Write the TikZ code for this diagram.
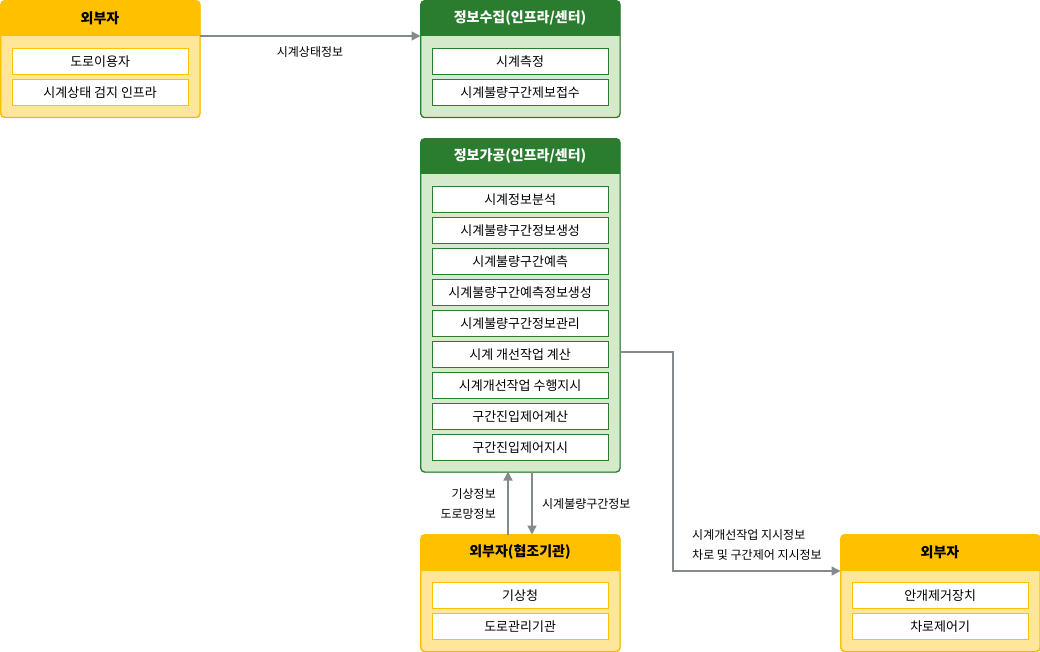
\documentclass[tikz,border=0pt]{standalone}
\usepackage{fontspec}
\setmainfont{Noto Sans CJK KR}
\usetikzlibrary{arrows.meta,positioning}
\definecolor{yhead}{HTML}{FFC000}
\definecolor{ybody}{HTML}{FFE699}
\definecolor{ghead}{HTML}{2A7D2E}
\definecolor{gbody}{HTML}{D5EACB}
\definecolor{arr}{HTML}{858A8C}
\tikzset{
  outer/.style={draw, line width=0.8pt, rounded corners=4pt, minimum width=199pt, anchor=north west, inner sep=0pt},
  ybox/.style={outer, draw=yhead!90!black, fill=ybody},
  gbox/.style={outer, draw=ghead, fill=gbody},
  ititle/.style={font=\bfseries\fontsize{14}{16}\selectfont},
  item/.style={draw, line width=0.8pt, fill=white, minimum width=175.5pt, minimum height=26pt, anchor=north west, inner sep=0pt, font=\fontsize{13}{15}\selectfont},
  yitem/.style={item, draw=yhead},
  gitem/.style={item, draw=ghead},
  lbl/.style={font=\fontsize{12}{14}\selectfont, inner sep=0pt},
  flow/.style={draw=arr, line width=1.5pt, -{Triangle[length=9pt,width=9pt]}},
}
\newcommand{\header}[2]{%
  \begin{scope}
    \clip[rounded corners=4pt] (#1.north west) rectangle (#1.south east);
    \fill[#2] (#1.north west) rectangle ([yshift=-36pt]#1.north east);
  \end{scope}
  \draw[line width=0.8pt, rounded corners=4pt, draw=#2] (#1.north west) rectangle (#1.south east);
}
\begin{document}
\begin{tikzpicture}[x=1pt,y=-1pt]
\useasboundingbox (0,0) rectangle (1040,652);

% Box 1
\node[ybox, minimum height=116.5pt] (ext1) at (0.5,0.5) {};
\header{ext1}{yhead}
\node[ititle] (ext1t) at (100,18) {외부자};
\node[yitem] (ext1a) at (12,48) {도로이용자};
\node[yitem] (ext1b) at (12,79) {시계상태 검지 인프라};

% Box 2
\node[gbox, minimum height=116.5pt] (col) at (420.5,0.5) {};
\header{col}{ghead}
\node[ititle, text=white] (colt) at (520,18) {정보수집(인프라/센터)};
\node[gitem] (cola) at (432,48) {시계측정};
\node[gitem] (colb) at (432,79) {시계불량구간제보접수};

% Box 3
\node[gbox, minimum height=333pt] (proc) at (420.5,138.5) {};
\header{proc}{ghead}
\node[ititle, text=white] (proct) at (520,156) {정보가공(인프라/센터)};
\foreach \t [count=\i from 0] in {시계정보분석,시계불량구간정보생성,시계불량구간예측,시계불량구간예측정보생성,시계불량구간정보관리,시계 개선작업 계산,시계개선작업 수행지시,구간진입제어계산,구간진입제어지시}
  \node[gitem] (p\i) at (432,186+31*\i) {\t};

% Box 4
\node[ybox, minimum height=116.5pt] (coop) at (420.5,534.5) {};
\header{coop}{yhead}
\node[ititle] (coopt) at (520,552) {외부자(협조기관)};
\node[yitem] (coopa) at (432,582) {기상청};
\node[yitem] (coopb) at (432,613) {도로관리기관};

% Box 5
\node[ybox, minimum height=116.5pt] (ext2) at (840.5,534.5) {};
\header{ext2}{yhead}
\node[ititle] (ext2t) at (940,552) {외부자};
\node[yitem] (ext2a) at (852,582) {안개제거장치};
\node[yitem] (ext2b) at (852,613) {차로제어기};

% Connectors
\coordinate (c1s) at (200,36);
\coordinate (c1e) at (420.5,36);
\draw[flow] (c1s) -- (c1e);
\node[lbl] (l1) at (310,52) {시계상태정보};

\coordinate (upS) at (508,534.5);
\coordinate (upE) at (508,471.5);
\draw[flow] (upS) -- (upE);
\coordinate (dnS) at (532,471.5);
\coordinate (dnE) at (532,534.5);
\draw[flow] (dnS) -- (dnE);
\node[lbl, anchor=east] (l2) at (496,494) {기상정보};
\node[lbl, anchor=east] (l3) at (496,514) {도로망정보};
\node[lbl, anchor=west] (l4) at (542,504) {시계불량구간정보};

\coordinate (elS) at (620,352);
\coordinate (elE) at (840.5,571);
\draw[flow] (elS) -- (673,352) -- (673,571) -- (elE);
\node[lbl, anchor=west] (l5) at (692,535) {시계개선작업 지시정보};
\node[lbl, anchor=west] (l6) at (692,555) {차로 및 구간제어 지시정보};
\end{tikzpicture}
\end{document}
